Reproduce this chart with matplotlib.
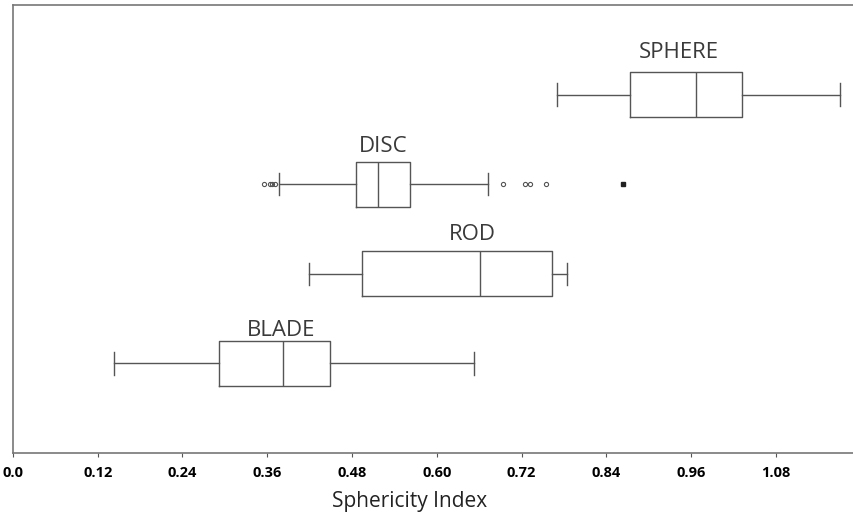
import matplotlib.pyplot as plt

plt.rcParams['font.family'] = ['Open Sans', 'DejaVu Sans']

# box statistics (left whisker, Q1, median, Q3, right whisker)
shapes = ['BLADE', 'ROD', 'DISC', 'SPHERE']
low = [0.143, 0.419, 0.376, 0.770]
q1 = [0.292, 0.494, 0.486, 0.873]
med = [0.383, 0.661, 0.517, 0.967]
q3 = [0.449, 0.763, 0.562, 1.032]
high = [0.653, 0.784, 0.672, 1.171]
disc_outliers = [0.355, 0.364, 0.367, 0.371, 0.694, 0.725, 0.732, 0.754]
disc_far = [0.864]

grey = '#555555'

stats = []
for i, name in enumerate(shapes):
    stats.append({
        'label': name,
        'whislo': low[i], 'q1': q1[i], 'med': med[i], 'q3': q3[i], 'whishi': high[i],
        'fliers': disc_outliers if name == 'DISC' else [],
    })

fig = plt.figure(figsize=(8.54, 5.12), dpi=100)
ax = fig.add_axes([0.0152, 0.1152, 0.985, 0.875])

line = dict(color=grey, linewidth=1.0)
ax.bxp(stats, positions=[1, 2, 3, 4], widths=0.5, vert=False,
       boxprops=line, whiskerprops=line, capprops=line, medianprops=line,
       flierprops=dict(marker='o', markersize=3, markerfacecolor='none',
                       markeredgecolor=grey, markeredgewidth=0.8))
ax.plot(disc_far, [3] * len(disc_far), 's', color='#222222', markersize=2.5)

# label placement above each box (hand tuned)
label_x = [0.379, 0.650, 0.524, 0.943]
label_dy = [0.37, 0.44, 0.42, 0.47]
for i, name in enumerate(shapes):
    ax.text(label_x[i], i + 1 + label_dy[i], name, ha='center', va='center',
            fontsize=16, color='#3a3a3a')

ax.set_xlim(0, 1.191)
ax.set_ylim(0, 5)
ax.set_xticks([0.0, 0.12, 0.24, 0.36, 0.48, 0.60, 0.72, 0.84, 0.96, 1.08])
ax.set_xticklabels(['0.0', '0.12', '0.24', '0.36', '0.48', '0.60', '0.72', '0.84', '0.96', '1.08'],
                   fontweight='bold', fontsize=10.5)
ax.set_yticks([])
ax.tick_params(axis='x', length=3, color=grey, pad=6)
ax.set_xlabel('Sphericity Index', fontsize=15, color='#222222', labelpad=4)
ax.xaxis.set_label_coords(0.472, -0.085)
for side in ['left', 'top', 'bottom']:
    ax.spines[side].set_color('#777777')
    ax.spines[side].set_linewidth(1.2)
ax.spines['right'].set_visible(False)

fig.savefig('out.png', dpi=100)
